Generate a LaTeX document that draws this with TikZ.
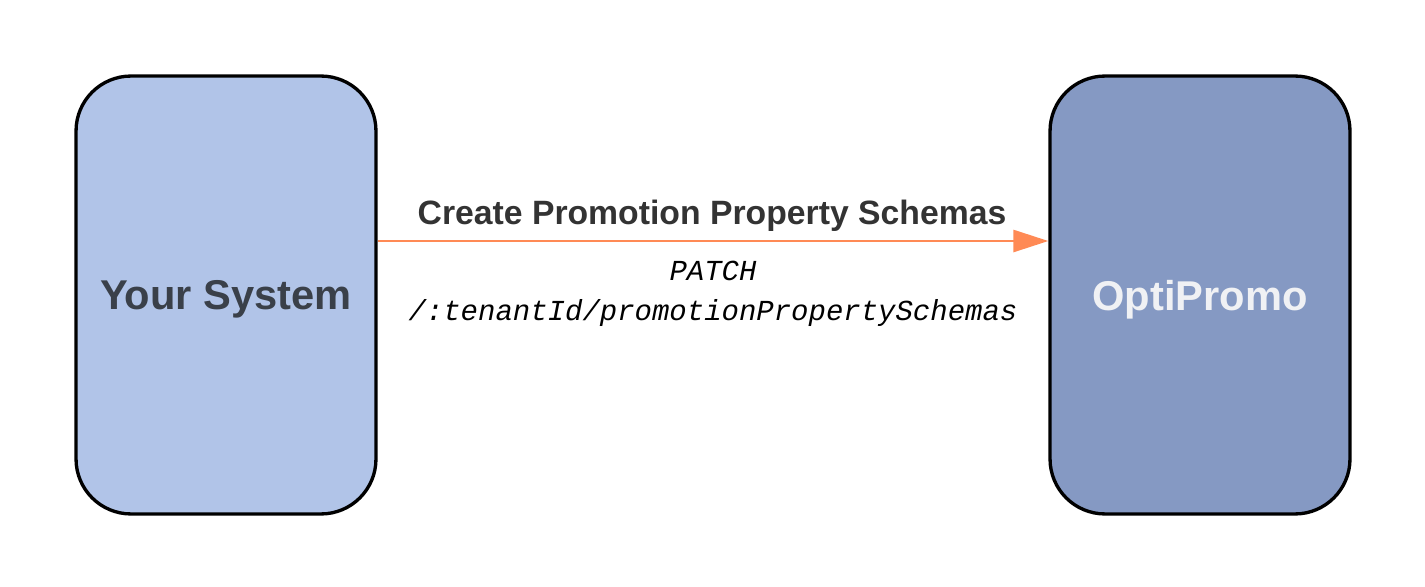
\documentclass[tikz,border=0pt]{standalone}
\usepackage{fontspec}
\setmainfont{Liberation Sans}
\setmonofont{Liberation Mono}
\usetikzlibrary{arrows.meta}

\definecolor{sysfill}{HTML}{B1C4E8}
\definecolor{optifill}{HTML}{8599C3}
\definecolor{systext}{HTML}{3A4049}
\definecolor{optitext}{HTML}{F0F1F4}
\definecolor{flowcol}{HTML}{FF8A55}
\definecolor{labcol}{HTML}{333333}

\begin{document}
\begin{tikzpicture}[x=0.02cm, y=-0.02cm,
    sysbox/.style={draw=black, line width=1.9pt, rounded corners=1.1cm,
        minimum width=6cm, minimum height=8.76cm, inner sep=0pt, text depth=0pt,
        font=\fontsize{23.7}{28}\selectfont\bfseries},
    flow/.style={draw=flowcol, line width=1.5pt,
        -{Triangle[length=0.7cm, width=0.44cm]}},
    flowlab/.style={text=labcol, font=\fontsize{19.2}{23}\selectfont\bfseries},
    calllab/.style={align=center, font=\fontsize{16.5}{22.7}\selectfont\ttfamily\itshape}]
    \useasboundingbox (0,0) rectangle (1425,587);

    % Draw the two systems
    \node[sysbox, fill=sysfill, text=systext] (ys) at (226,295) {Your System};
    \node[sysbox, fill=optifill, text=optitext] (op) at (1200,295) {OptiPromo};

    % Request
    \draw[flow] ([yshift=1.08cm]ys.east) -- ([yshift=1.08cm]op.west);
    \node[flowlab] (req) at (712,216) {Create Promotion Property Schemas};
    \node[calllab] (call) at (713,294) {PATCH\\/:tenantId/promotionPropertySchemas};
\end{tikzpicture}
\end{document}
